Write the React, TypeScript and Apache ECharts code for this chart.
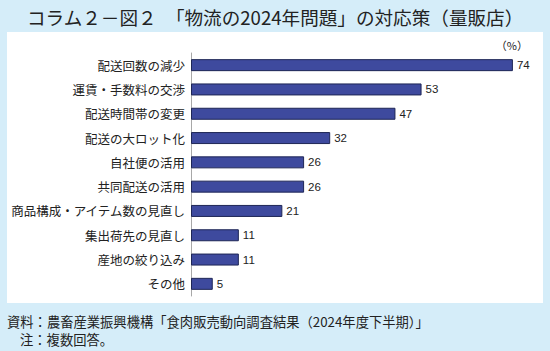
import React, { useEffect, useRef } from "react";
import * as echarts from "echarts";

const categories = [
  "配送回数の減少",
  "運賃・手数料の交渉",
  "配送時間帯の変更",
  "配送の大ロット化",
  "自社便の活用",
  "共同配送の活用",
  "商品構成・アイテム数の見直し",
  "集出荷先の見直し",
  "産地の絞り込み",
  "その他",
];
const values = [74, 53, 47, 32, 26, 26, 21, 11, 11, 5];

const titleText = "コラム２－図２　「物流の2024年問題」の対応策（量販店）";
const unitText = "（%）";
const sourceText = "資料：農畜産業振興機構「食肉販売動向調査結果（2024年度下半期）」";
const noteText = "注：複数回答。";

const JP = "'Noto Sans CJK JP', 'Noto Sans', sans-serif";
const NUM = "'Liberation Sans', Arial, sans-serif";

export default function App() {
  const ref = useRef<HTMLDivElement>(null);
  useEffect(() => {
    document.body.style.margin = "0";
    if (!ref.current) return;
    const chart = echarts.init(ref.current, undefined, { renderer: "svg" });
    chart.setOption({
      animation: false,
      backgroundColor: "#d5edf9",
      graphic: [
        {
          type: "rect",
          shape: { x: 7, y: 32, width: 536, height: 271 },
          style: { fill: "#ffffff" },
          z: -10,
        },
        {
          type: "text",
          x: 27,
          y: 16,
          style: {
            text: titleText,
            font: `18.6px ${JP}`,
            fill: "#222222",
            verticalAlign: "middle",
          },
        },
        {
          type: "text",
          x: 528,
          y: 45,
          style: {
            text: unitText,
            font: `11px ${JP}`,
            fill: "#222222",
            align: "right",
            verticalAlign: "middle",
          },
        },
        {
          type: "text",
          x: 7,
          y: 321,
          style: {
            text: sourceText,
            font: `13.3px ${JP}`,
            fill: "#222222",
            verticalAlign: "middle",
          },
        },
        {
          type: "text",
          x: 20,
          y: 339,
          style: {
            text: noteText,
            font: `13.3px ${JP}`,
            fill: "#222222",
            verticalAlign: "middle",
          },
        },
      ],
      grid: { left: 191, right: 11, top: 53, height: 243, containLabel: false },
      xAxis: {
        type: "value",
        min: 0,
        max: 80,
        show: false,
      },
      yAxis: {
        type: "category",
        data: categories,
        inverse: true,
        axisLine: { show: true, lineStyle: { color: "#a8a8a8", width: 1 } },
        axisTick: { show: false },
        splitLine: { show: false },
        axisLabel: {
          margin: 6,
          fontSize: 12.5,
          fontFamily: JP,
          color: "#222222",
        },
      },
      series: [
        {
          type: "bar",
          data: values,
          barWidth: 12,
          itemStyle: { color: "#3e4a9e", borderColor: "#1e2656", borderWidth: 1 },
          label: {
            show: true,
            position: "right",
            distance: 4,
            fontSize: 11.5,
            fontFamily: NUM,
            color: "#222222",
          },
        },
      ],
    });
    return () => chart.dispose();
  }, []);
  return <div ref={ref} style={{ width: 550, height: 351 }} />;
}
